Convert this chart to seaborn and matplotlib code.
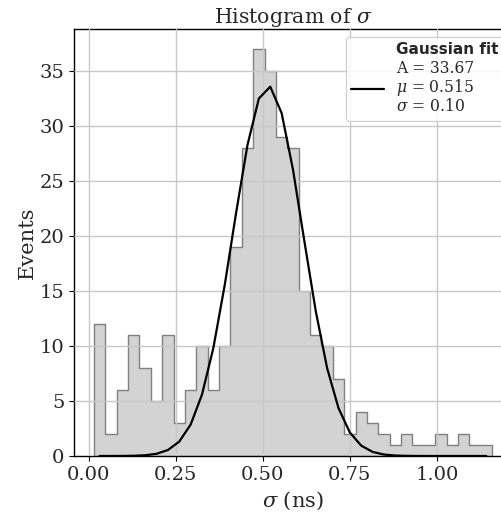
import numpy as np
import pandas as pd
import seaborn as sns
import matplotlib
matplotlib.use("Agg")
import matplotlib.pyplot as plt
from matplotlib.lines import Line2D
from matplotlib.font_manager import FontProperties

# ---- data ----
bin_lo = 0.0153
bin_hi = 1.158
n_bins = 35
counts = [12, 2, 6, 11, 8, 5, 11, 3, 6, 10, 6, 10,
          19, 28, 37, 35, 29, 28,
          15, 11, 10, 7, 2, 4, 3, 2, 1, 2, 1, 1, 2, 1, 2, 1, 1]
fit_A = 33.67
fit_mu = 0.515
fit_sigma = 0.10
xticks = [0.00, 0.25, 0.50, 0.75, 1.00]
yticks = [0, 5, 10, 15, 20, 25, 30, 35]

edges = np.linspace(bin_lo, bin_hi, n_bins + 1)
centers = 0.5 * (edges[:-1] + edges[1:])
df = pd.DataFrame({"sigma": centers, "count": counts})
fit_y = fit_A * np.exp(-0.5 * ((centers - fit_mu) / fit_sigma) ** 2)

sns.set_theme(style="ticks")
plt.rcParams["font.family"] = ["DejaVu Serif"]
plt.rcParams["mathtext.fontset"] = "dejavuserif"

fig = plt.figure(figsize=(5.02, 5.14), dpi=100)
ax = fig.add_axes([74 / 502, 58 / 514, (512 - 74) / 502, (456 - 29) / 514])

sns.histplot(data=df, x="sigma", weights="count", bins=n_bins,
             binrange=(bin_lo, bin_hi), element="step",
             color="lightgray", edgecolor="gray", alpha=1.0, linewidth=1.0,
             ax=ax, zorder=1)
sns.lineplot(x=centers, y=fit_y, color="black", linewidth=1.6, ax=ax,
             zorder=3, sort=False)

ax.set_axisbelow(False)
ax.grid(True, color="#c8c8c8", linewidth=1.0, zorder=2)
ax.set_xticks(xticks)
ax.set_xticklabels([f"{v:.2f}" for v in xticks])
ax.set_yticks(yticks)
ax.tick_params(labelsize=14, length=3.5, width=0.8, color="black")
for s in ax.spines.values():
    s.set_color("black")
    s.set_linewidth(1.0)

ax.set_xlabel(r"$\sigma$ (ns)", fontsize=15)
ax.set_ylabel("Events", fontsize=15, labelpad=2)
ax.set_title(r"Histogram of $\sigma$", fontsize=14.7, pad=4.5)

handles = [Line2D([], [], color="none"), Line2D([], [], color="black", linewidth=1.6)]
labels = ["Gaussian fit", "A = 33.67\n$\\mu$ = 0.515\n$\\sigma$ = 0.10"]
leg = ax.legend(handles, labels, loc="upper right", fontsize=11.2, framealpha=0.85,
                labelspacing=0.2, borderpad=0.35, handlelength=2.1)
leg.get_texts()[0].set_fontproperties(FontProperties(family="DejaVu Sans", weight="bold", size=11))
leg.get_texts()[1].set_linespacing(1.0)
leg.set_zorder(5)

fig.savefig("out.png", dpi=100)
